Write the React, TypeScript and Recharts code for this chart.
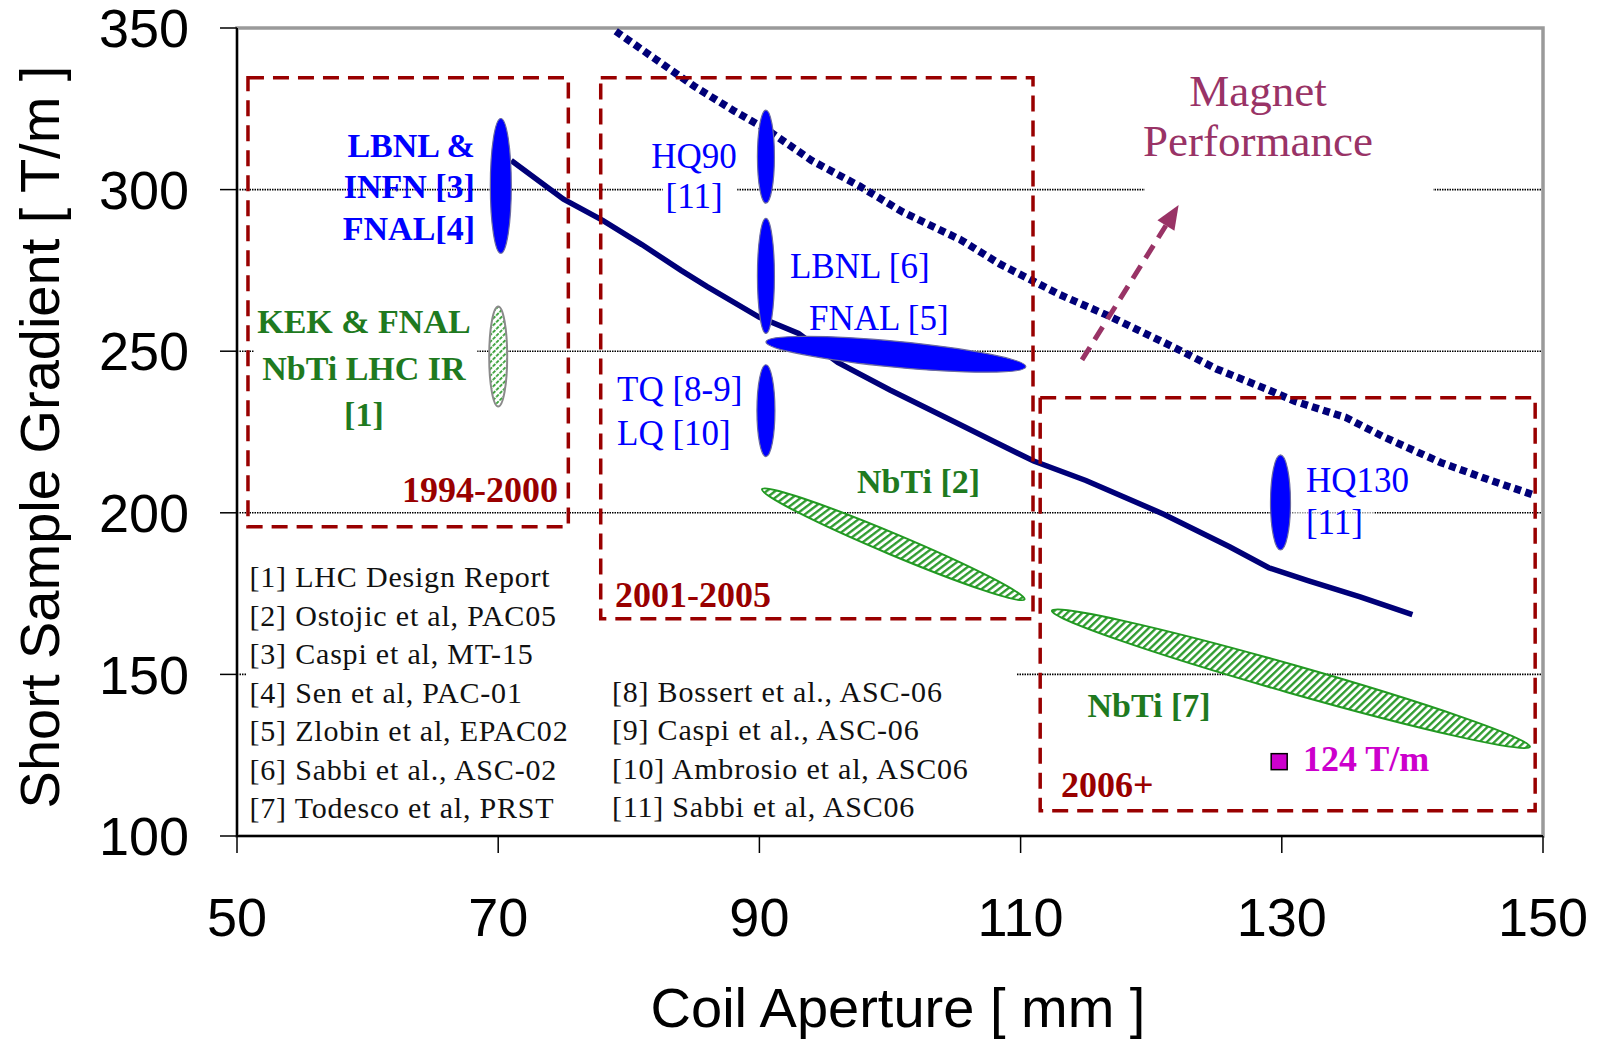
import {
  ComposedChart,
  Line,
  Scatter,
  XAxis,
  YAxis,
  CartesianGrid,
  ReferenceArea,
  ReferenceLine,
  ReferenceDot,
} from "recharts";

const SANS = "'Liberation Sans', Arial, sans-serif";
const SERIF = "'Liberation Serif', 'Times New Roman', serif";

const xTicks = [50, 70, 90, 110, 130, 150];
const yTicks = [100, 150, 200, 250, 300, 350];

// performance limit line (solid) and its upper bound (dotted)
const limitX = [71, 75, 78, 81, 84, 86, 90, 93, 96, 100, 105, 108, 111, 115, 121, 126, 129, 132, 136, 140];
const limitY = [309, 297, 290.5, 283, 275, 270, 260.5, 255.5, 246.5, 238, 228, 222, 216, 210, 199.5, 189.5, 183, 179, 174, 168.5];
const upperX = [79, 82, 85, 88, 90.6, 94, 97.7, 101, 105.4, 108.4, 113, 116.7, 121.6, 125, 129, 131, 134.9, 137.8, 142.2, 146, 149.3];
const upperY = [349, 340.5, 332, 324.5, 318.5, 309, 301, 293, 284.5, 277, 267.5, 261, 251.5, 244.5, 238, 234.5, 229.5, 223.5, 215.5, 210, 205.5];

// Nb3Sn results, each drawn as an ellipse between two end points
const nb3snNames = ["LBNL & INFN / FNAL", "HQ90", "LBNL [6]", "TQ / LQ", "FNAL [5]", "HQ130"];
const nb3snX1 = [70.2, 90.5, 90.5, 90.5, 90.5, 129.9];
const nb3snY1 = [280.3, 295.8, 255.5, 217.4, 252.9, 188.5];
const nb3snX2 = [70.2, 90.5, 90.5, 90.5, 110.4, 129.9];
const nb3snY2 = [322, 324.6, 291.1, 245.8, 245.2, 217.9];

// NbTi results
const nbtiNames = ["KEK & FNAL", "NbTi [2]", "NbTi [7]"];
const nbtiX1 = [70, 90.2, 112.4];
const nbtiY1 = [232.9, 207.3, 169.7];
const nbtiX2 = [70, 110.3, 149];
const nbtiY2 = [263.8, 173.2, 127.6];

// single point: 124 T/m
const pointX = [129.8];
const pointY = [123];

// era boxes
const eraNames = ["1994-2000", "2001-2005", "2006+"];
const eraX1 = [50.84, 77.85, 111.5];
const eraX2 = [75.37, 110.95, 149.4];
const eraY1 = [195.7, 167.2, 107.8];
const eraY2 = [334.6, 334.6, 235.6];

const refsLeft = [
  "[1] LHC Design Report",
  "[2] Ostojic et al, PAC05",
  "[3] Caspi et al, MT-15",
  "[4] Sen et al, PAC-01",
  "[5] Zlobin et al, EPAC02",
  "[6] Sabbi et al., ASC-02",
  "[7] Todesco et al, PRST",
];
const refsRight = [
  "[8] Bossert et al., ASC-06",
  "[9] Caspi et al., ASC-06",
  "[10] Ambrosio et al, ASC06",
  "[11] Sabbi et al, ASC06",
];

const nb3snThick = [21, 17, 17, 18, 26, 20];
const nbtiThick = [18, 21, 28];
const nbtiHatch = ["hatchBack", "hatch", "hatch"];
const nbtiEdge = ["#8a8a8a", "#229922", "#229922"];

const BLUE = "#0000FF";
const GREEN = "#1F7A1F";
const RED = "#990000";
const PURPLE = "#993366";
const NAVY = "#000078";

type Note = {
  x: number;
  y: number;
  lines: string[];
  color: string;
  size: number;
  bold?: boolean;
  anchor: "start" | "middle" | "end";
  gap?: number;
  spacing?: number;
};

const notes: Note[] = [
  { x: 68.22, y: 310.2, lines: ["LBNL &", "INFN [3]", "FNAL[4]"], color: BLUE, size: 34, bold: true, anchor: "end", gap: 41.7 },
  { x: 59.72, y: 255.5, lines: ["KEK & FNAL", "NbTi LHC IR", "[1]"], color: GREEN, size: 34, bold: true, anchor: "middle", gap: 46.5 },
  { x: 85.0, y: 306.6, lines: ["HQ90", "[11]"], color: BLUE, size: 35, anchor: "middle", gap: 40 },
  { x: 92.34, y: 272.6, lines: ["LBNL [6]"], color: BLUE, size: 35, anchor: "start" },
  { x: 93.8, y: 256.6, lines: ["FNAL [5]"], color: BLUE, size: 35, anchor: "start" },
  { x: 79.1, y: 234.6, lines: ["TQ [8-9]", "LQ [10]"], color: BLUE, size: 35, anchor: "start", gap: 44 },
  { x: 97.47, y: 206.1, lines: ["NbTi [2]"], color: GREEN, size: 34, bold: true, anchor: "start" },
  { x: 74.58, y: 203.4, lines: [eraNames[0]], color: RED, size: 36, bold: true, anchor: "end" },
  { x: 78.94, y: 170.9, lines: [eraNames[1]], color: RED, size: 36, bold: true, anchor: "start" },
  { x: 113.1, y: 112.1, lines: [eraNames[2]], color: RED, size: 36, bold: true, anchor: "start" },
  { x: 131.85, y: 206.3, lines: ["HQ130", "[11]"], color: BLUE, size: 35, anchor: "start", gap: 42 },
  { x: 115.12, y: 136.8, lines: ["NbTi [7]"], color: GREEN, size: 34, bold: true, anchor: "start" },
  { x: 131.62, y: 120.1, lines: ["124 T/m"], color: "#CC00CC", size: 36, bold: true, anchor: "start" },
  { x: 128.18, y: 325.9, lines: ["Magnet", "Performance"], color: PURPLE, size: 45, anchor: "middle", gap: 50 },
  { x: 50.96, y: 177.0, lines: refsLeft, color: "#111", size: 30, anchor: "start", gap: 38.5, spacing: 0.8 },
  { x: 78.71, y: 141.5, lines: refsRight, color: "#111", size: 30, anchor: "start", gap: 38.5, spacing: 0.8 },
];

// white patches where labels hide the dotted grid
const covers = [
  { x1: 51.3, x2: 68.4, y1: 243, y2: 257, o: 1 },
  { x1: 82.6, x2: 88.3, y1: 296, y2: 304, o: 1 },
  { x1: 119.5, x2: 141.6, y1: 296, y2: 304, o: 1 },
  { x1: 130.8, x2: 137.1, y1: 197, y2: 203, o: 0.6 },
  { x1: 50.7, x2: 109.7, y1: 147, y2: 153, o: 1 },
];

const limitData = limitX.map((x, i) => ({ x, y: limitY[i] }));
const upperData = upperX.map((x, i) => ({ x, y: upperY[i] }));
const pointData = pointX.map((x, i) => ({ x, y: pointY[i] }));

const blob = (thick: number, fill: string, edge: string, edgeW: number) => (p: any) => {
  const { x1, y1, x2, y2 } = p;
  if (x1 == null || y1 == null) return <g />;
  const cx = (x1 + x2) / 2;
  const cy = (y1 + y2) / 2;
  const rx = Math.max(Math.hypot(x2 - x1, y2 - y1) / 2, 1);
  const ang = (Math.atan2(y2 - y1, x2 - x1) * 180) / Math.PI;
  return (
    <ellipse
      cx={cx}
      cy={cy}
      rx={rx}
      ry={thick / 2}
      transform={`rotate(${ang} ${cx} ${cy})`}
      fill={fill}
      stroke={edge}
      strokeWidth={edgeW}
    />
  );
};

const arrow = (p: any) => {
  const { x1, y1, x2, y2 } = p;
  if (x1 == null) return <g />;
  const len = Math.hypot(x2 - x1, y2 - y1);
  const ux = (x2 - x1) / len;
  const uy = (y2 - y1) / len;
  const head = 24;
  const bx = x2 - ux * head;
  const by = y2 - uy * head;
  return (
    <g>
      <line x1={x1} y1={y1} x2={bx} y2={by} stroke={PURPLE} strokeWidth={5} strokeDasharray="15 9" />
      <polygon
        points={`${x2},${y2} ${bx - uy * 10},${by + ux * 10} ${bx + uy * 10},${by - ux * 10}`}
        fill={PURPLE}
      />
    </g>
  );
};

const noteShape = (n: Note) => (p: any) => (
  <text
    x={p.cx}
    y={p.cy}
    fill={n.color}
    fontSize={n.size}
    fontWeight={n.bold ? 700 : 400}
    fontFamily={SERIF}
    textAnchor={n.anchor}
    letterSpacing={n.spacing ?? 0}
  >
    {n.lines.map((t, i) => (
      <tspan key={i} x={p.cx} dy={i === 0 ? 0 : n.gap}>
        {t}
      </tspan>
    ))}
  </text>
);

const square = (p: any) => (
  <rect x={p.cx - 8} y={p.cy - 8} width={16} height={16} fill="#CC00CC" stroke="#000" strokeWidth={1.5} />
);

const xTitle = (p: any) => {
  const vb = p.viewBox || { x: 237, y: 836, width: 1306, height: 205 };
  return (
    <text x={vb.x + vb.width / 2 + 8} y={vb.y + 191} textAnchor="middle" fontSize={56} fontFamily={SANS} fill="#000">
      Coil Aperture [ mm ]
    </text>
  );
};

const yTitle = (p: any) => {
  const vb = p.viewBox || { x: 0, y: 28, width: 237, height: 808 };
  const x = vb.x + 59;
  const y = vb.y + vb.height / 2 + 5;
  return (
    <text x={x} y={y} transform={`rotate(-90 ${x} ${y})`} textAnchor="middle" fontSize={56} fontFamily={SANS} fill="#000">
      Short Sample Gradient [ T/m ]
    </text>
  );
};

export default function App() {
  return (
    <div style={{ position: "absolute", left: 0, top: 0, width: 1602, height: 1041, background: "#fff" }}>
      <ComposedChart width={1602} height={1041} margin={{ top: 28, right: 59, bottom: 0, left: 0 }}>
        <defs>
          <pattern id="hatch" width="5.2" height="5.2" patternUnits="userSpaceOnUse" patternTransform="rotate(30)">
            <rect width="5.2" height="5.2" fill="#fff" />
            <line x1="1.2" y1="0" x2="1.2" y2="5.2" stroke="#2A9A2A" strokeWidth="2.3" />
          </pattern>
          <pattern id="hatchBack" width="4.8" height="4.8" patternUnits="userSpaceOnUse" patternTransform="rotate(-45)">
            <rect width="4.8" height="4.8" fill="#fff" />
            <line x1="1" y1="0" x2="1" y2="4.8" stroke="#2A9A2A" strokeWidth="1.7" strokeDasharray="2 1" />
          </pattern>
        </defs>
        <CartesianGrid
          vertical={false}
          horizontalValues={[150, 200, 250, 300]}
          stroke="#000"
          strokeWidth={1.6}
          strokeDasharray="1.5 1"
        />
        {covers.map((c, i) => (
          <ReferenceArea key={`c${i}`} x1={c.x1} x2={c.x2} y1={c.y1} y2={c.y2} fill="#fff" fillOpacity={c.o} stroke="none" zIndex={-60} />
        ))}
        <ReferenceArea x1={50} x2={150} y1={100} y2={350} fill="none" stroke="#9a9a9a" strokeWidth={3.5} zIndex={-50} />
        <XAxis
          type="number"
          dataKey="x"
          domain={[50, 150]}
          ticks={xTicks}
          interval={0}
          height={205}
          tickSize={17}
          tickMargin={45}
          tick={{ fill: "#000", fontSize: 54, fontFamily: SANS }}
          tickLine={{ stroke: "#000", strokeWidth: 1.5 }}
          axisLine={{ stroke: "#000", strokeWidth: 2 }}
          label={xTitle}
        />
        <YAxis
          type="number"
          dataKey="y"
          domain={[100, 350]}
          ticks={yTicks}
          interval={0}
          width={237}
          tickSize={17}
          tickMargin={31}
          tick={{ fill: "#000", fontSize: 54, fontFamily: SANS }}
          tickLine={{ stroke: "#000", strokeWidth: 1.5 }}
          axisLine={{ stroke: "#000", strokeWidth: 2 }}
          label={yTitle}
        />
        <Line
          data={limitData}
          dataKey="y"
          type="linear"
          stroke={NAVY}
          strokeWidth={5.5}
          dot={false}
          activeDot={false}
          isAnimationActive={false}
        />
        <Line
          data={upperData}
          dataKey="y"
          type="linear"
          stroke={NAVY}
          strokeWidth={7.5}
          strokeDasharray="7 4.5"
          dot={false}
          activeDot={false}
          isAnimationActive={false}
        />
        {eraNames.map((n, i) => (
          <ReferenceArea
            key={n}
            x1={eraX1[i]}
            x2={eraX2[i]}
            y1={eraY1[i]}
            y2={eraY2[i]}
            fill="none"
            stroke={RED}
            strokeWidth={3.5}
            strokeDasharray="16 9"
            zIndex={420}
          />
        ))}
        {nbtiNames.map((n, i) => (
          <ReferenceLine
            key={n}
            segment={[
              { x: nbtiX1[i], y: nbtiY1[i] },
              { x: nbtiX2[i], y: nbtiY2[i] },
            ]}
            shape={blob(nbtiThick[i], `url(#${nbtiHatch[i]})`, nbtiEdge[i], 2)}
            zIndex={470}
          />
        ))}
        {nb3snNames.map((n, i) => (
          <ReferenceLine
            key={n}
            segment={[
              { x: nb3snX1[i], y: nb3snY1[i] },
              { x: nb3snX2[i], y: nb3snY2[i] },
            ]}
            shape={blob(nb3snThick[i], BLUE, "#6a6aa0", 1.2)}
            zIndex={480}
          />
        ))}
        <ReferenceLine
          segment={[
            { x: 114.7, y: 247.3 },
            { x: 122.1, y: 295.2 },
          ]}
          shape={arrow}
          zIndex={490}
        />
        <Scatter data={pointData} dataKey="y" shape={square} isAnimationActive={false} zIndex={600} />
        {notes.map((n, i) => (
          <ReferenceDot key={`n${i}`} x={n.x} y={n.y} r={0} shape={noteShape(n)} zIndex={600} />
        ))}
      </ComposedChart>
    </div>
  );
}
